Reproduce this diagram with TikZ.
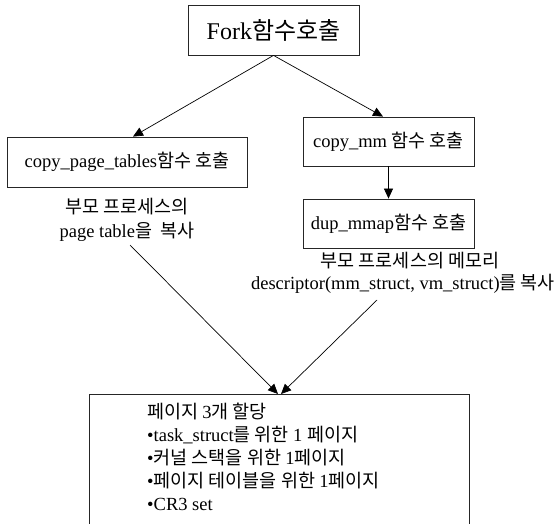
\documentclass[tikz,border=0pt]{standalone}
\usepackage{fontspec}
\setmainfont{Liberation Serif}
\newfontfamily\kr{Noto Sans CJK KR}
\usetikzlibrary{arrows.meta}
\begin{document}
\begin{tikzpicture}[x=1pt,y=-1pt,
  box/.style={draw=black!85,line width=0.8pt,rectangle,inner sep=0pt,font=\fontsize{18.5}{22}\selectfont},
  lbl/.style={inner sep=0pt,font=\fontsize{18.5}{22}\selectfont},
  arr/.style={line width=0.7pt,-{Triangle[length=10pt,width=9pt]}}]
\useasboundingbox (0,0) rectangle (559,524);
\node[box,minimum width=171pt,minimum height=50pt,font=\fontsize{24}{28}\selectfont] (fork) at (273.5,30) {Fork{\kr 함수호출}};
\node[box,minimum width=240pt,minimum height=50pt] (cpt) at (127,162) {\raisebox{-3pt}{copy\_page\_tables{\kr 함수 호출}}};
\node[box,minimum width=171pt,minimum height=49pt] (cmm) at (388.5,141.5) {copy\_mm {\kr 함수 호출}};
\node[box,minimum width=171pt,minimum height=49pt] (dup) at (388.5,223.5) {dup\_mmap{\kr 함수 호출}};
\node[lbl] (l1) at (127,207) {\kr 부모 프로세스의};
\node[lbl] (l2) at (127,232) {page table{\kr 을 \ 복사}};
\node[lbl] (r1) at (410,261) {\kr 부모 프로세스의 메모리};
\node[lbl] (r2) at (403,284) {descriptor(mm\_struct, vm\_struct){\kr 를 복사}};
\coordinate (ls) at (130,245);
\coordinate (rs) at (377,300);
\draw[draw=black!85,line width=0.8pt] (89,530) -- (89,394) -- (469,394) -- (469,530);
\coordinate (alloc) at (279.5,394);
\node[lbl,anchor=north west,align=left,font=\fontsize{18.5}{23}\selectfont] (txt) at (147,403) {%
{\kr 페이지 }3{\kr 개 할당}\\
•task\_struct{\kr 를 위한 }1 {\kr 페이지}\\
•{\kr 커널 스택을 위한 }1{\kr 페이지}\\
•{\kr 페이지 테이블을 위한 }1{\kr 페이지}\\
•CR3 set};
\draw[arr] (fork.south) -- ([xshift=6pt]cpt.north);
\draw[arr] (fork.south) -- ([xshift=-5.5pt]cmm.north);
\draw[arr] (cmm.south) -- (dup.north);
\draw[arr] (ls) -- ([xshift=-1.5pt]alloc);
\draw[arr] (rs) -- ([xshift=1.5pt]alloc);
\end{tikzpicture}
\end{document}
